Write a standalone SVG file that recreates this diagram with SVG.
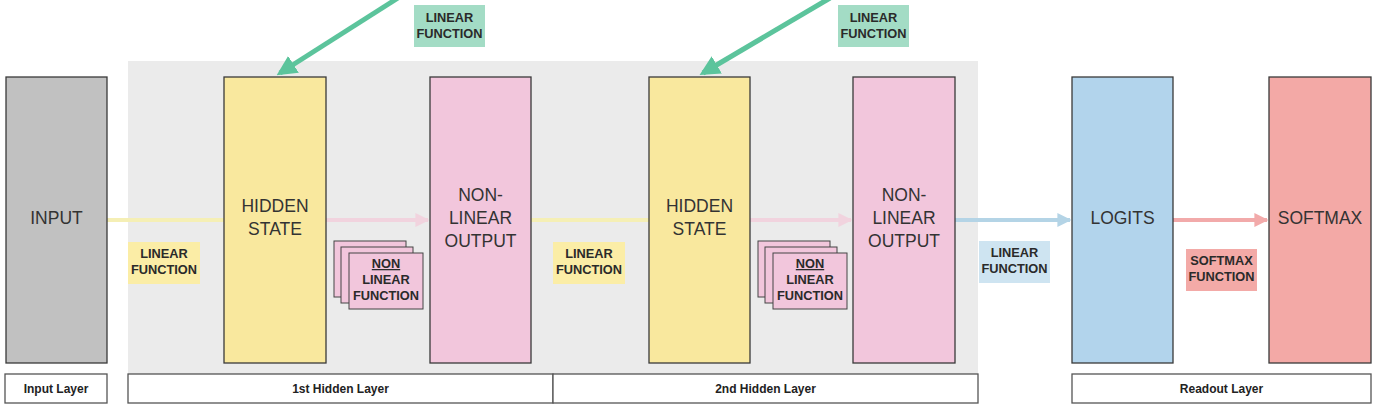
<svg xmlns="http://www.w3.org/2000/svg" width="1377" height="416" viewBox="0 0 1377 416">
<style>
.box{stroke:#3a3a3a;stroke-width:1.3}
.big{font-family:"Liberation Sans",Arial,sans-serif;font-size:17.5px;text-anchor:middle;fill:#333}
.sm{font-family:"Liberation Sans",Arial,sans-serif;font-size:12.8px;font-weight:bold;text-anchor:middle;fill:#2a2a2a}
.lay{font-family:"Liberation Sans",Arial,sans-serif;font-size:12px;font-weight:bold;text-anchor:middle;fill:#222}
.lbox{fill:#fff;stroke:#555;stroke-width:1.3}
.card{fill:#f2c6dc;stroke:#444;stroke-width:1}
</style>
<defs>
<marker id="ag" viewBox="0 0 10 10" refX="8" refY="5" markerWidth="4" markerHeight="4" orient="auto"><path d="M0,0L10,5L0,10z" fill="#5cc49c"/></marker>
<marker id="ap" viewBox="0 0 10 10" refX="9" refY="5" markerWidth="3.5" markerHeight="3.5" orient="auto"><path d="M0,0L10,5L0,10z" fill="#f1d3de"/></marker>
<marker id="ab" viewBox="0 0 10 10" refX="9" refY="5" markerWidth="3.5" markerHeight="3.5" orient="auto"><path d="M0,0L10,5L0,10z" fill="#b4d4e6"/></marker>
<marker id="ar" viewBox="0 0 10 10" refX="9" refY="5" markerWidth="3.5" markerHeight="3.5" orient="auto"><path d="M0,0L10,5L0,10z" fill="#f2aaaa"/></marker>
</defs>
<rect width="1377" height="416" fill="#fff"/>
<rect id="panel" x="128" y="61" width="850" height="313" fill="#ebebeb"/>

<g id="connectors">
<line x1="107" y1="220" x2="224" y2="220" stroke="#f5efb5" stroke-width="4"/>
<line x1="326" y1="220" x2="428" y2="220" stroke="#f1d3de" stroke-width="4" marker-end="url(#ap)"/>
<line x1="531" y1="220" x2="649" y2="220" stroke="#f5efb5" stroke-width="4"/>
<line x1="750" y1="220" x2="851" y2="220" stroke="#f1d3de" stroke-width="4" marker-end="url(#ap)"/>
<line x1="955" y1="220" x2="1070" y2="220" stroke="#b4d4e6" stroke-width="4" marker-end="url(#ab)"/>
<line x1="1173" y1="220" x2="1267" y2="220" stroke="#f2aaaa" stroke-width="4" marker-end="url(#ar)"/>
<line x1="398" y1="-2" x2="280" y2="73" stroke="#5cc49c" stroke-width="5" marker-end="url(#ag)"/>
<line x1="830" y1="-2" x2="703" y2="73" stroke="#5cc49c" stroke-width="5" marker-end="url(#ag)"/>
</g>

<g id="input"><rect class="box" x="6" y="77" width="101" height="286" fill="#c1c1c1"/><text class="big" x="56.5" y="224">INPUT</text></g>
<g id="hidden1"><rect class="box" x="224" y="77" width="102" height="286" fill="#f9e89e"/><text class="big" x="275" y="212">HIDDEN</text><text class="big" x="275" y="235">STATE</text></g>
<g id="nlout1"><rect class="box" x="430" y="77" width="101" height="286" fill="#f2c6dc"/><text class="big" x="480.5" y="201">NON-</text><text class="big" x="480.5" y="224">LINEAR</text><text class="big" x="480.5" y="247">OUTPUT</text></g>
<g id="hidden2"><rect class="box" x="649" y="77" width="101" height="286" fill="#f9e89e"/><text class="big" x="699.5" y="212">HIDDEN</text><text class="big" x="699.5" y="235">STATE</text></g>
<g id="nlout2"><rect class="box" x="853" y="77" width="102" height="286" fill="#f2c6dc"/><text class="big" x="904" y="201">NON-</text><text class="big" x="904" y="224">LINEAR</text><text class="big" x="904" y="247">OUTPUT</text></g>
<g id="logits"><rect class="box" x="1072" y="77" width="101" height="286" fill="#b2d4ec"/><text class="big" x="1122.5" y="224" fill="#2d3e50">LOGITS</text></g>
<g id="softmax"><rect class="box" x="1269" y="77" width="102" height="286" fill="#f3a9a6"/><text class="big" x="1320" y="224">SOFTMAX</text></g>

<g id="lf-green1"><rect x="414" y="5" width="71" height="42" fill="#a3dcc5"/><text class="sm" x="449.5" y="22">LINEAR</text><text class="sm" x="449.5" y="38">FUNCTION</text></g>
<g id="lf-green2"><rect x="838" y="5" width="71" height="42" fill="#a3dcc5"/><text class="sm" x="873.5" y="22">LINEAR</text><text class="sm" x="873.5" y="38">FUNCTION</text></g>
<g id="lf-yellow1"><rect x="128" y="242" width="72" height="42" fill="#fbeda6"/><text class="sm" x="164" y="258">LINEAR</text><text class="sm" x="164" y="274">FUNCTION</text></g>
<g id="lf-yellow2"><rect x="553" y="242" width="72" height="42" fill="#fbeda6"/><text class="sm" x="589" y="258">LINEAR</text><text class="sm" x="589" y="274">FUNCTION</text></g>
<g id="lf-blue"><rect x="979" y="241" width="71" height="42" fill="#cee4f1"/><text class="sm" x="1014.5" y="257">LINEAR</text><text class="sm" x="1014.5" y="273">FUNCTION</text></g>
<g id="sf-func"><rect x="1186" y="249" width="71" height="42" fill="#f3aaa7"/><text class="sm" x="1221.5" y="265">SOFTMAX</text><text class="sm" x="1221.5" y="281">FUNCTION</text></g>

<g id="nlf1">
<rect class="card" x="334" y="241" width="72" height="56"/>
<rect class="card" x="341" y="247" width="72" height="56"/>
<rect class="card" x="349" y="253" width="74" height="56"/>
<text class="sm" x="386" y="268" text-decoration="underline">NON</text><text class="sm" x="386" y="284">LINEAR</text><text class="sm" x="386" y="300">FUNCTION</text>
</g>
<g id="nlf2">
<rect class="card" x="758" y="241" width="72" height="56"/>
<rect class="card" x="765" y="247" width="72" height="56"/>
<rect class="card" x="773" y="253" width="74" height="56"/>
<text class="sm" x="810" y="268" text-decoration="underline">NON</text><text class="sm" x="810" y="284">LINEAR</text><text class="sm" x="810" y="300">FUNCTION</text>
</g>

<g id="layers">
<rect class="lbox" x="5" y="374" width="102" height="29"/><text class="lay" x="56" y="392.5">Input Layer</text>
<rect class="lbox" x="128" y="374" width="425" height="29"/><text class="lay" x="340.5" y="392.5">1st Hidden Layer</text>
<rect class="lbox" x="553" y="374" width="425" height="29"/><text class="lay" x="765.5" y="392.5">2nd Hidden Layer</text>
<rect class="lbox" x="1072" y="374" width="299" height="29"/><text class="lay" x="1221.5" y="392.5">Readout Layer</text>
</g>
</svg>
